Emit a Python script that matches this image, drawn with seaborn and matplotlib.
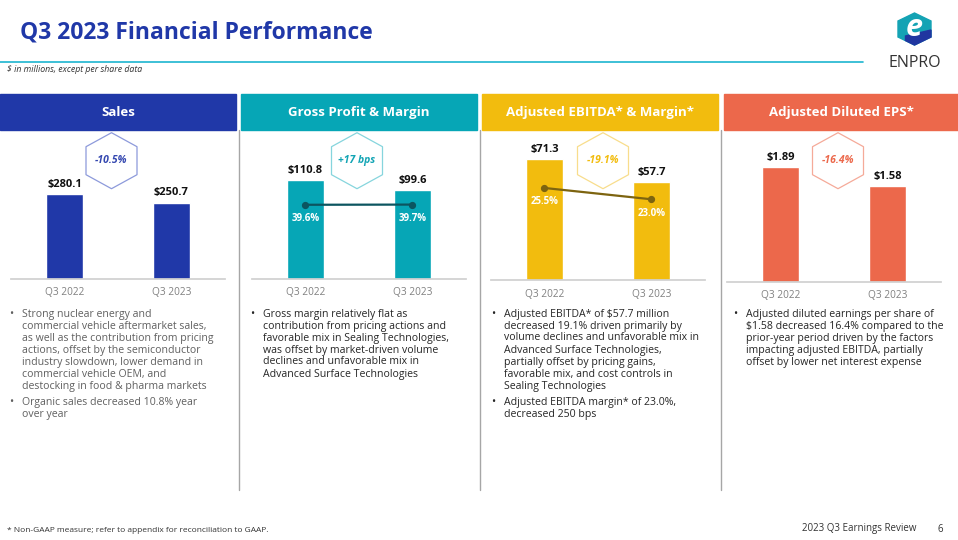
import pandas as pd
import matplotlib.pyplot as plt
from matplotlib.patches import Polygon, Rectangle
import seaborn as sns

# --- DATA ---
periods = ["Q3 2022", "Q3 2023"]
sales = [280.1, 250.7]
gross_profit = [110.8, 99.6]
gross_margin = [39.6, 39.7]
adj_ebitda = [71.3, 57.7]
ebitda_margin = [25.5, 23.0]
adj_eps = [1.89, 1.58]

panel_titles = ["Sales", "Gross Profit & Margin", "Adjusted EBITDA* & Margin*", "Adjusted Diluted EPS*"]
badges = ["-10.5%", "+17 bps", "-19.1%", "-16.4%"]

notes = [
    [["Strong nuclear energy and", "commercial vehicle aftermarket sales,",
      "as well as the contribution from pricing", "actions, offset by the semiconductor",
      "industry slowdown, lower demand in", "commercial vehicle OEM, and",
      "destocking in food & pharma markets"],
     ["Organic sales decreased 10.8% year", "over year"]],
    [["Gross margin relatively flat as", "contribution from pricing actions and",
      "favorable mix in Sealing Technologies,", "was offset by market-driven volume",
      "declines and unfavorable mix in", "Advanced Surface Technologies"]],
    [["Adjusted EBITDA* of $57.7 million", "decreased 19.1% driven primarily by",
      "volume declines and unfavorable mix in", "Advanced Surface Technologies,",
      "partially offset by pricing gains,", "favorable mix, and cost controls in",
      "Sealing Technologies"],
     ["Adjusted EBITDA margin* of 23.0%,", "decreased 250 bps"]],
    [["Adjusted diluted earnings per share of", "$1.58 decreased 16.4% compared to the",
      "prior-year period driven by the factors", "impacting adjusted EBITDA, partially",
      "offset by lower net interest expense"]],
]

values = [sales, gross_profit, adj_ebitda, adj_eps]
margins = [None, gross_margin, ebitda_margin, None]
label_fmt = ["${:.1f}", "${:.1f}", "${:.1f}", "${:.2f}"]

# --- STYLE / LAYOUT (pixels of a 958x540 slide) ---
colors = ["#2038A8", "#06A6B6", "#F2BC0E", "#EC684B"]
badge_edge = ["#8D9ADB", "#86D5DD", "#F8DD8C", "#F5AA99"]
badge_txt = ["#3548B0", "#12A4B4", "#F2BC0E", "#EC684B"]
line_colors = [None, "#0C5560", "#7D6410", None]
note_colors = ["#606060", "#262626", "#262626", "#262626"]

panel_x = [0, 241, 482, 724]
panel_w = [236, 236, 236, 234]
first_bar = [64.5, 305.5, 544.5, 780.5]
baseline = [278.7, 278.7, 280.3, 281.7]
ymax = [457, 155.7, 82.5, 2.335]
margin_lim = [None, (0, 74.3), (5.1, 36.1), None]
badge_cx = [111.5, 357, 603, 838]
AX_TOP = 140

W, H = 958, 540

sns.set_theme(style="white")
plt.rcParams['font.family'] = ['Open Sans', 'DejaVu Sans']
plt.rcParams['text.parse_math'] = False

fig = plt.figure(figsize=(W / 100, H / 100), dpi=100)

# background layer in pixel coordinates
bg = fig.add_axes([0, 0, 1, 1], zorder=0)
bg.set_xlim(0, W)
bg.set_ylim(H, 0)
bg.axis('off')

bg.text(20, 32, "Q3 2023 Financial Performance", fontsize=16.5, fontweight='bold',
        color="#2038A8", va='center', ha='left')
bg.plot([0, 863], [62, 62], color="#1CB5CF", lw=1.2)
bg.text(7, 69.5, "$ in millions, except per share data", fontsize=6.3, style='italic',
        color="#333333", va='center')

# logo
cx, cy = 914.5, 29
hexl = [(cx, cy - 16), (cx + 16.5, cy - 8), (cx + 16.5, cy + 8), (cx, cy + 16),
        (cx - 16.5, cy + 8), (cx - 16.5, cy - 8)]
bg.add_patch(Polygon(hexl, closed=True, color="#14A3B4"))
bg.add_patch(Polygon([(cx - 9, cy + 7), (cx + 16.5, cy + 1), (cx + 16.5, cy + 8),
                      (cx, cy + 16), (cx - 9, cy + 11.5)], closed=True, color="#2036A0"))
bg.text(cx, cy - 1, "e", fontsize=22, fontweight='bold', style='italic', color='white',
        ha='center', va='center')
bg.text(cx, 63, "ENPRO", fontsize=11.5, color="#333333", ha='center', va='center')

# header boxes, separators, badges, notes
for i in range(4):
    px, pw = panel_x[i], panel_w[i]
    bg.add_patch(Rectangle((px, 94), pw, 36, color=colors[i]))
    bg.text(px + pw / 2, 112.5, panel_titles[i], color='white', fontsize=9.5,
            fontweight='bold', ha='center', va='center')

    bx, by = badge_cx[i], 160.7
    hexb = [(bx, by - 28), (bx + 25.5, by - 14), (bx + 25.5, by + 14), (bx, by + 28),
            (bx - 25.5, by + 14), (bx - 25.5, by - 14)]
    bg.add_patch(Polygon(hexb, closed=True, facecolor='white', edgecolor=badge_edge[i],
                         lw=0.9, joinstyle='round'))
    bg.text(bx, by, badges[i], color=badge_txt[i], fontsize=7.5, fontweight='bold',
            style='italic', ha='center', va='center')

    y = 314
    for bullet in notes[i]:
        for k, line in enumerate(bullet):
            if k == 0:
                bg.text(px + 9, y, "•", fontsize=8, color=note_colors[i], va='center')
            bg.text(px + 22, y, line, fontsize=7.6, color=note_colors[i], va='center')
            y += 12
        y += 4

for sx in [239.5, 480.5, 721.5]:
    bg.plot([sx, sx], [130, 490], color="#A6A6A6", lw=1)

bg.text(7, 531, "* Non-GAAP measure; refer to appendix for reconciliation to GAAP.",
        fontsize=6.0, color="#333333", va='center')
bg.text(916, 529, "2023 Q3 Earnings Review", fontsize=7, color="#333333",
        ha='right', va='center')
bg.text(940, 529, "6", fontsize=7, color="#333333", ha='center', va='center')

# --- CHARTS ---
for i in range(4):
    left = first_bar[i] - 53.5
    bottom = baseline[i]
    ax = fig.add_axes([left / W, 1 - bottom / H, 214 / W, (bottom - AX_TOP) / H], zorder=2)
    ax.patch.set_visible(False)
    df = pd.DataFrame({"period": periods, "value": values[i]})
    sns.barplot(data=df, x="period", y="value", color=colors[i], saturation=1,
                width=0.35, ax=ax)
    ax.set_xlim(-0.5, 1.5)
    ax.set_ylim(0, ymax[i])
    ax.bar_label(ax.containers[0], labels=[label_fmt[i].format(v) for v in values[i]],
                 padding=3, fontsize=8, fontweight='bold', color='#111111')
    sns.despine(ax=ax, left=True)
    ax.spines['bottom'].set_color('#D0D0D0')
    ax.set_yticks([])
    ax.set_xlabel('')
    ax.set_ylabel('')
    ax.tick_params(axis='x', length=0, pad=6, labelsize=7.3, labelcolor='#808080')

    if margins[i] is not None:
        ax2 = ax.twinx()
        ax2.patch.set_visible(False)
        sns.pointplot(x=periods, y=margins[i], ax=ax2, color=line_colors[i],
                      markersize=4, linewidth=1.6)
        ax2.set_xlim(-0.5, 1.5)
        ax2.set_ylim(*margin_lim[i])
        ax2.set_yticks([])
        ax2.set_ylabel('')
        for s in ax2.spines.values():
            s.set_visible(False)
        for k, m in enumerate(margins[i]):
            ax2.annotate(f"{m:.1f}%", (k, m), xytext=(0, -10), textcoords='offset points',
                         ha='center', va='center', color='white', fontsize=7,
                         fontweight='bold')

fig.savefig("out.png", dpi=100)
